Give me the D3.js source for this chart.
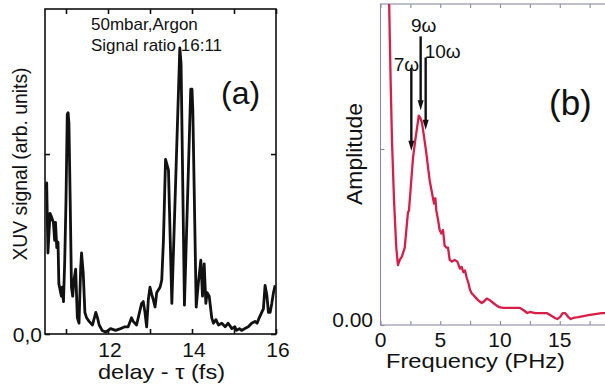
<!DOCTYPE html>
<html>
<head>
<meta charset="utf-8">
<script src="https://cdn.jsdelivr.net/npm/d3@7/dist/d3.min.js"></script>
<style>
  html, body { margin: 0; padding: 0; background: #fff; }
  svg { display: block; }
  text { font-family: "Liberation Sans", Arial, Helvetica, sans-serif; fill: #111; }
</style>
</head>
<body>
<svg id="chart" width="605" height="387"></svg>
<script>
// ---------------- Panel (a) data: XUV signal vs delay ----------------
const aDelay = [10.52,10.54,10.57,10.62,10.64,10.70,10.73,10.75,10.78,10.81,10.83,10.89,10.91,10.94,10.97,11.00,11.03,11.05,11.07,11.10,11.13,11.16,11.19,11.23,11.27,11.31,11.35,11.37,11.41,11.45,11.49,11.55,11.63,11.71,11.75,11.79,11.86,11.95,12.06,12.18,12.30,12.40,12.48,12.56,12.60,12.68,12.72,12.80,12.84,12.88,12.92,12.96,13.00,13.04,13.08,13.12,13.16,13.24,13.28,13.32,13.37,13.44,13.52,13.71,13.74,13.82,13.97,14.00,14.02,14.10,14.15,14.21,14.25,14.29,14.33,14.36,14.41,14.47,14.51,14.57,14.63,14.71,14.79,14.86,14.95,15.02,15.06,15.13,15.18,15.26,15.34,15.42,15.50,15.55,15.60,15.66,15.70,15.74,15.78,15.82,15.86,15.90,15.94,15.98];
const aSignal = [0.80,0.84,0.45,0.67,0.66,0.62,0.52,0.62,0.48,0.51,0.28,0.21,0.26,0.18,0.41,0.74,1.22,1.23,1.17,0.74,0.26,0.21,0.30,0.36,0.09,0.06,0.37,0.45,0.34,0.12,0.09,0.07,0.05,0.12,0.09,0.05,0.02,0.01,0.03,0.02,0.03,0.04,0.04,0.09,0.07,0.05,0.09,0.17,0.18,0.12,0.04,0.19,0.26,0.22,0.19,0.15,0.23,0.26,0.30,0.52,0.97,0.91,0.17,1.59,1.50,0.16,1.36,1.36,1.24,0.15,0.28,0.41,0.21,0.39,0.17,0.23,0.21,0.09,0.06,0.08,0.05,0.06,0.04,0.06,0.03,0.04,0.02,0.03,0.02,0.03,0.04,0.06,0.07,0.06,0.09,0.12,0.14,0.27,0.22,0.12,0.12,0.17,0.23,0.27];
const aXTicks = [11, 12, 13, 14, 15, 16];
const aXTickLabels = [12, 14, 16];
const aYTicks = [0, 1];
const aYTickLabel = "0,0";
const aNote = ["50mbar,Argon", "Signal ratio 16:11"];

// ---------------- Panel (b) data: Fourier amplitude vs frequency ----------------
const bFreq = [0.68,0.77,0.85,0.96,1.13,1.32,1.46,1.61,1.80,2.03,2.19,2.30,2.38,2.53,2.72,2.91,3.08,3.20,3.31,3.47,3.64,3.83,3.97,4.12,4.31,4.48,4.59,4.67,4.81,4.95,5.09,5.23,5.37,5.51,5.65,5.79,5.98,6.21,6.43,6.65,6.79,6.93,7.07,7.21,7.35,7.49,7.63,7.77,7.91,8.18,8.47,8.60,8.89,9.16,9.44,9.72,10.00,10.28,10.56,10.84,11.26,11.67,11.95,12.28,12.51,12.93,13.35,13.91,14.33,14.60,14.79,15.02,15.25,15.44,15.72,15.92,16.13,16.55,16.97,17.53,18.09,18.51,18.79,19.20];
const bAmp = [2.00,1.66,1.38,1.05,0.71,0.44,0.34,0.37,0.39,0.44,0.56,0.64,0.65,0.78,0.95,1.05,1.13,1.19,1.18,1.15,1.07,0.98,0.90,0.82,0.75,0.69,0.72,0.65,0.60,0.54,0.52,0.54,0.45,0.44,0.44,0.37,0.36,0.37,0.36,0.32,0.33,0.30,0.31,0.27,0.24,0.20,0.18,0.17,0.16,0.14,0.125,0.13,0.15,0.14,0.125,0.11,0.10,0.097,0.097,0.097,0.097,0.097,0.085,0.068,0.074,0.068,0.068,0.068,0.051,0.040,0.034,0.045,0.068,0.068,0.045,0.034,0.040,0.045,0.051,0.057,0.063,0.068,0.068,0.070];
const bXTicks = [0, 2.5, 5, 7.5, 10, 12.5, 15, 17.5, 20];
const bXTickLabels = [0, 5, 10, 15];
const bYTicks = [0, 1];
const bYTickLabel = "0.00";
// harmonic arrows
const harmonics = ["7\u03c9", "9\u03c9", "10\u03c9"];
const harmonicFreq = [2.58, 3.36, 3.78];
const arrowTail = [1.46, 1.64, 1.52];
const arrowTip = [0.99, 1.22, 1.11];

// ---------------- Drawing ----------------
const svg = d3.select("#chart");

// Panel (a) scales
const ax = d3.scaleLinear().domain([10.5, 16]).range([45, 276]);
const ay = d3.scaleLinear().domain([0, 1.806]).range([334, 9]);

const gA = svg.append("g");
gA.append("clipPath").attr("id", "clipA").append("rect")
  .attr("x", ax.range()[0]).attr("y", ay.range()[1])
  .attr("width", ax.range()[1] - ax.range()[0]).attr("height", ay.range()[0] - ay.range()[1]);

gA.append("path")
  .datum(aDelay.map((d, i) => [d, aSignal[i]]))
  .attr("clip-path", "url(#clipA)")
  .attr("fill", "none").attr("stroke", "#111").attr("stroke-width", 2.8)
  .attr("stroke-linejoin", "round")
  .attr("d", d3.line().x(d => ax(d[0])).y(d => ay(d[1])));

function frameAxes(g, x, y, xt, yt, tickLen, color, width) {
  const [x0, x1] = x.range(); const [y0, y1] = y.range();
  const style = s => { s.select(".domain").remove(); s.selectAll("line").attr("stroke", color).attr("stroke-width", width); };
  g.append("g").attr("transform", `translate(0,${y0})`)
    .call(d3.axisBottom(x).tickValues(xt).tickSize(-tickLen).tickFormat("")).call(style);
  g.append("g").attr("transform", `translate(0,${y1})`)
    .call(d3.axisTop(x).tickValues(xt).tickSize(-tickLen).tickFormat("")).call(style);
  g.append("g").attr("transform", `translate(${x0},0)`)
    .call(d3.axisLeft(y).tickValues(yt).tickSize(-tickLen).tickFormat("")).call(style);
  g.append("g").attr("transform", `translate(${x1},0)`)
    .call(d3.axisRight(y).tickValues(yt).tickSize(-tickLen).tickFormat("")).call(style);
  g.append("rect").attr("x", x0).attr("y", y1).attr("width", x1 - x0).attr("height", y0 - y1)
    .attr("fill", "none").attr("stroke", color).attr("stroke-width", width);
}

frameAxes(gA, ax, ay, aXTicks, aYTicks, 5, "#111", 1.6);

gA.selectAll(".xlab").data(aXTickLabels).join("text")
  .attr("x", d => ax(d) + 2).attr("y", 357)
  .attr("text-anchor", "middle").attr("font-size", 21).text(d => d);
gA.append("text").attr("x", 42).attr("y", ay(0) + 8).attr("text-anchor", "end")
  .attr("font-size", 21).text(aYTickLabel);
gA.append("text").attr("x", (ax.range()[0] + ax.range()[1]) / 2 + 1).attr("y", 379)
  .attr("text-anchor", "middle").attr("font-size", 21)
  .attr("textLength", 127).attr("lengthAdjust", "spacingAndGlyphs")
  .text("delay - \u03c4 (fs)");
gA.append("text").attr("transform", "translate(27,164) rotate(-90)")
  .attr("text-anchor", "middle").attr("font-size", 20)
  .attr("textLength", 193).attr("lengthAdjust", "spacingAndGlyphs")
  .text("XUV signal (arb. units)");
gA.selectAll(".note").data(aNote).join("text")
  .attr("x", 91).attr("y", (d, i) => 30 + i * 21)
  .attr("font-size", 17).text(d => d);
gA.append("text").attr("x", 221).attr("y", 104).attr("font-size", 32).text("(a)");

// Panel (b) scales
const bx = d3.scaleLinear().domain([0, 20]).range([380.5, 619.5]);
const by = d3.scaleLinear().domain([0, 1.824]).range([325, 4]);
const gB = svg.append("g");
gB.append("clipPath").attr("id", "clipB").append("rect")
  .attr("x", bx.range()[0]).attr("y", by.range()[1])
  .attr("width", bx.range()[1] - bx.range()[0]).attr("height", by.range()[0] - by.range()[1]);

frameAxes(gB, bx, by, bXTicks, bYTicks, 4, "#8a8aa8", 1.1);

gB.append("path")
  .datum(bFreq.map((d, i) => [d, bAmp[i]]))
  .attr("clip-path", "url(#clipB)")
  .attr("fill", "none").attr("stroke", "#d81e48").attr("stroke-width", 2.3)
  .attr("stroke-linejoin", "round")
  .attr("d", d3.line().x(d => bx(d[0])).y(d => by(d[1])));

gB.selectAll(".xlab").data(bXTickLabels).join("text")
  .attr("x", d => bx(d)).attr("y", 347)
  .attr("text-anchor", "middle").attr("font-size", 21).text(d => d);
gB.append("text").attr("x", 373).attr("y", by(0) + 2).attr("text-anchor", "end")
  .attr("font-size", 21).text(bYTickLabel);
gB.append("text").attr("x", 475.5).attr("y", 368)
  .attr("text-anchor", "middle").attr("font-size", 21)
  .attr("textLength", 179).attr("lengthAdjust", "spacingAndGlyphs")
  .text("Frequency (PHz)");
gB.append("text").attr("transform", "translate(362,154) rotate(-90)")
  .attr("text-anchor", "middle").attr("font-size", 22)
  .attr("textLength", 102).attr("lengthAdjust", "spacingAndGlyphs")
  .text("Amplitude");
gB.append("text").attr("x", 549).attr("y", 115).attr("font-size", 35).text("(b)");

// arrows
const labelLayout = [
  { anchor: "middle", dx: -5, dy: 3 },
  { anchor: "middle", dx: 3, dy: -4 },
  { anchor: "start", dx: -1, dy: 0 }
];
harmonics.forEach((h, i) => {
  const xp = bx(harmonicFreq[i]);
  const yt = by(arrowTail[i]), yh = by(arrowTip[i]);
  const headLen = 10, headW = 3;
  gB.append("line").attr("x1", xp).attr("x2", xp).attr("y1", yt).attr("y2", yh - headLen + 1)
    .attr("stroke", "#111").attr("stroke-width", 2.4);
  gB.append("path")
    .attr("d", `M${xp - headW},${yh - headLen} L${xp + headW},${yh - headLen} L${xp},${yh} Z`)
    .attr("fill", "#111");
  const L = labelLayout[i];
  gB.append("text").attr("x", xp + L.dx).attr("y", yt + L.dy)
    .attr("text-anchor", L.anchor).attr("font-size", 19).text(h);
});
</script>
</body>
</html>
